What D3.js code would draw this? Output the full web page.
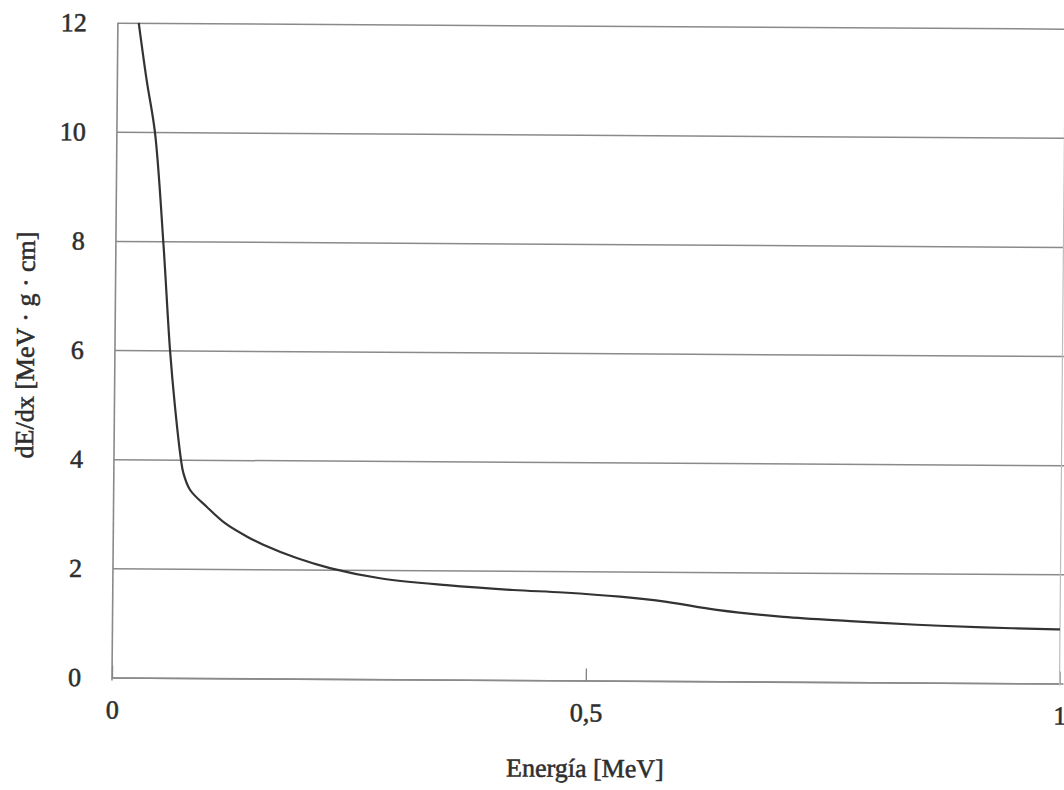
<!DOCTYPE html>
<html>
<head>
<meta charset="utf-8">
<script src="https://cdn.jsdelivr.net/npm/d3@7"></script>
<style>
  body { margin: 0; background: #fff; }
  svg { display: block; }
</style>
</head>
<body>
<svg id="chart" width="1064" height="790"></svg>
<script>
// Stopping power curve: energy [MeV] vs dE/dx
const energy   = [0.0220, 0.0309, 0.0402, 0.0500, 0.0581, 0.0639, 0.0708, 0.0733, 0.0805, 0.0983,
                  0.1178, 0.1408, 0.1584, 0.1938, 0.2290, 0.2819, 0.3524, 0.4224, 0.4752, 0.5354,
                  0.5847, 0.6376, 0.7079, 0.7783, 0.8488, 0.9191, 0.9966, 1.0000];
const stopping = [12.00, 10.95, 9.99, 7.99, 6.01, 4.97, 3.99, 3.76, 3.45, 3.14,
                  2.84, 2.60, 2.45, 2.21, 2.03, 1.85, 1.73, 1.65, 1.61, 1.54,
                  1.45, 1.31, 1.19, 1.12, 1.06, 1.02, 0.99, 0.99];

const xTicks = [0, 0.5, 1];
const xTickLabels = ["0", "0,5", "1"];
const yTicks = [0, 2, 4, 6, 8, 10, 12];
const yTickLabels = ["0", "2", "4", "6", "8", "10", "12"];

const xTitle = "Energía [MeV]";
const yTitle = "dE/dx [MeV · g · cm]";

const FONT = "'Liberation Serif', 'Times New Roman', serif";
const INK = "#2e2e2e";
const plot = { left: 112, right: 1059.5, top: 22.7, bottom: 677.5 };

const x = d3.scaleLinear().domain([0, 1]).range([plot.left, plot.right]);
const y = d3.scaleLinear().domain([0, 12]).range([plot.bottom, plot.top]);

const svg = d3.select("#chart");

// the printed figure sits slightly askew on the page
const root = svg.append("g")
  .attr("transform",
    `matrix(1,0.0063,-0.009,1,${0.009 * plot.bottom},${-0.0063 * plot.left})`);

function inkText(sel) {
  sel.attr("font-family", FONT)
    .attr("font-size", 26)
    .attr("fill", INK)
    .attr("stroke", INK)
    .attr("stroke-width", 0.55);
}

// horizontal gridlines + y tick labels
const yAxis = root.append("g")
  .attr("transform", `translate(${plot.left},0)`)
  .call(d3.axisLeft(y)
    .tickValues(yTicks)
    .tickFormat((d, i) => yTickLabels[i])
    .tickSize(-(plot.right - plot.left + 4))
    .tickPadding(31));
yAxis.select(".domain").remove();
yAxis.selectAll(".tick line")
  .attr("stroke", "#8a8a8a")
  .attr("stroke-width", 1.5);
yAxis.selectAll(".tick text").call(inkText);

// x axis with inward ticks
const xAxis = root.append("g")
  .attr("transform", `translate(0,${plot.bottom})`)
  .call(d3.axisBottom(x)
    .tickValues(xTicks)
    .tickFormat((d, i) => xTickLabels[i])
    .tickSizeInner(-12)
    .tickSizeOuter(0)
    .tickPadding(22.5));
xAxis.select(".domain")
  .attr("stroke", "#8a8a8a")
  .attr("stroke-width", 1.6);
xAxis.selectAll(".tick line")
  .attr("stroke", "#777")
  .attr("stroke-width", 1.2);
xAxis.selectAll(".tick text").call(inkText);

// left axis line and faint right border
root.append("line")
  .attr("x1", x(0)).attr("x2", x(0))
  .attr("y1", y(0) + 3).attr("y2", y(12))
  .attr("stroke", "#8a8a8a").attr("stroke-width", 1.6);
root.append("line")
  .attr("x1", x(1)).attr("x2", x(1))
  .attr("y1", y(0) + 2).attr("y2", y(12))
  .attr("stroke", "#bdbdbd").attr("stroke-width", 1.2);

// data curve
const pts = energy.map((e, i) => [e, stopping[i]]);
const line = d3.line()
  .x(d => x(d[0]))
  .y(d => y(d[1]))
  .curve(d3.curveCatmullRom.alpha(0.5));
root.append("path")
  .datum(pts)
  .attr("d", line)
  .attr("fill", "none")
  .attr("stroke", "#333")
  .attr("stroke-width", 2.2);

// axis titles
root.append("text")
  .attr("x", (plot.left + plot.right) / 2)
  .attr("y", 774)
  .attr("text-anchor", "middle")
  .call(inkText)
  .text(xTitle);

root.append("text")
  .attr("transform", "translate(31,345.5) rotate(-90)")
  .attr("text-anchor", "middle")
  .call(inkText)
  .text(yTitle);
</script>
</body>
</html>
